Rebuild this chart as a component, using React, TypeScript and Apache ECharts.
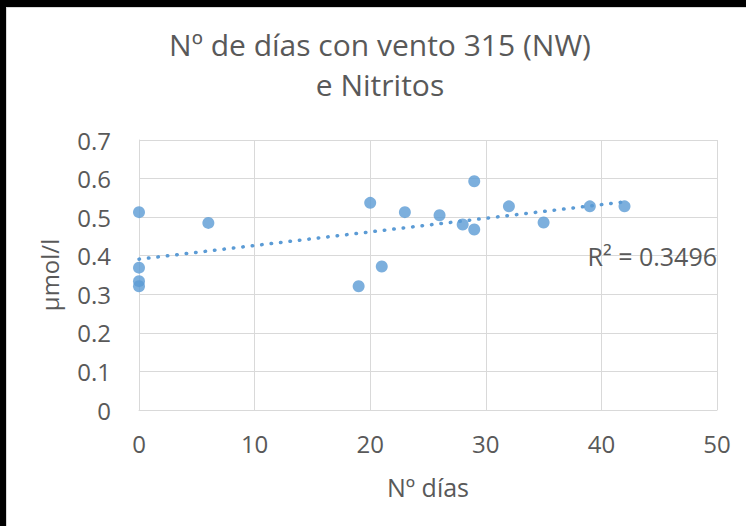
import React, { useEffect, useRef } from "react";
import * as echarts from "echarts";

const days: number[] = [0, 0, 0, 0, 6, 19, 20, 21, 23, 26, 28, 29, 29, 32, 35, 39, 42];
const nitritos: number[] = [0.513, 0.369, 0.334, 0.321, 0.485, 0.321, 0.537, 0.372, 0.513, 0.505, 0.481, 0.593, 0.468, 0.528, 0.486, 0.528, 0.528];
const titleLines: string[] = ["Nº de días con vento 315 (NW)", "e Nitritos"];
const xAxisName = "Nº días";
const yAxisName = "µmol/l";
const r2Label = "R² = 0.3496";

const FONT = "'Open Sans', Lato, sans-serif";
const TXT = "#595959";
const BLUE = "#5B9BD5";

function regression(xs: number[], ys: number[]) {
  const n = xs.length;
  const mx = xs.reduce((a, b) => a + b, 0) / n;
  const my = ys.reduce((a, b) => a + b, 0) / n;
  let sxy = 0, sxx = 0;
  for (let i = 0; i < n; i++) {
    sxy += (xs[i] - mx) * (ys[i] - my);
    sxx += (xs[i] - mx) * (xs[i] - mx);
  }
  const m = sxy / sxx;
  return { m, b: my - m * mx };
}

export default function App() {
  const ref = useRef<HTMLDivElement>(null);
  useEffect(() => {
    if (!ref.current) return;
    const chart = echarts.init(ref.current, undefined, { renderer: "svg" });
    const { m, b } = regression(days, nitritos);
    const xMin = Math.min(...days);
    const xMax = Math.max(...days);
    chart.setOption({
      animation: false,
      title: {
        text: titleLines.join("\n"),
        left: 368,
        textAlign: "center",
        top: 11,
        textStyle: { fontFamily: FONT, fontSize: 30, fontWeight: "normal", color: TXT, lineHeight: 40 },
      },
      grid: { left: 132, top: 132, right: 29, bottom: 116, containLabel: false },
      xAxis: {
        type: "value",
        min: 0,
        max: 50,
        interval: 10,
        name: xAxisName,
        nameLocation: "middle",
        nameGap: 64,
        nameTextStyle: { fontFamily: FONT, fontSize: 25, color: TXT },
        axisLine: { show: true, lineStyle: { color: "#d9d9d9", width: 1 } },
        axisTick: { show: false },
        axisLabel: { fontFamily: FONT, fontSize: 24, color: TXT, margin: 21 },
        splitLine: { show: true, lineStyle: { color: "#d9d9d9", width: 1 } },
      },
      yAxis: {
        type: "value",
        min: 0,
        max: 0.7,
        interval: 0.1,
        name: yAxisName,
        nameLocation: "middle",
        nameRotate: 90,
        nameGap: 78,
        nameTextStyle: { fontFamily: FONT, fontSize: 24, color: TXT },
        axisLine: { show: true, lineStyle: { color: "#d9d9d9", width: 1 } },
        axisTick: { show: false },
        axisLabel: {
          fontFamily: FONT,
          fontSize: 24,
          color: TXT,
          margin: 28,
          formatter: (v: number) => String(Math.round(v * 10) / 10),
        },
        splitLine: { show: true, lineStyle: { color: "#d9d9d9", width: 1 } },
      },
      graphic: [
        {
          type: "text",
          right: 29,
          top: 235,
          style: { text: r2Label, fontFamily: FONT, fontSize: 25, fill: TXT },
          z: 100,
        },
      ],
      series: [
        {
          type: "scatter",
          data: days.map((d, i) => [d, nitritos[i]]),
          symbol: "circle",
          symbolSize: 12,
          itemStyle: { color: BLUE },
          z: 2,
        },
        {
          type: "line",
          data: [
            [xMin, b + m * xMin],
            [xMax, b + m * xMax],
          ],
          symbol: "none",
          lineStyle: { color: BLUE, width: 3.5, type: [0.5, 9], cap: "round" },
          z: 3,
          silent: true,
        },
      ],
    });
    return () => chart.dispose();
  }, []);
  return (
    <div style={{ position: "fixed", left: 0, top: 0, width: 746, height: 526, background: "#000", overflow: "hidden" }}>
      <div
        style={{
          position: "absolute",
          left: 6,
          top: 7,
          width: 740,
          height: 519,
          background: "#fff",
          boxSizing: "border-box",
          borderTop: "1px solid #d9d9d9",
          borderLeft: "1px solid #d9d9d9",
        }}
      >
        <div ref={ref} style={{ width: 739, height: 518 }} />
      </div>
    </div>
  );
}
